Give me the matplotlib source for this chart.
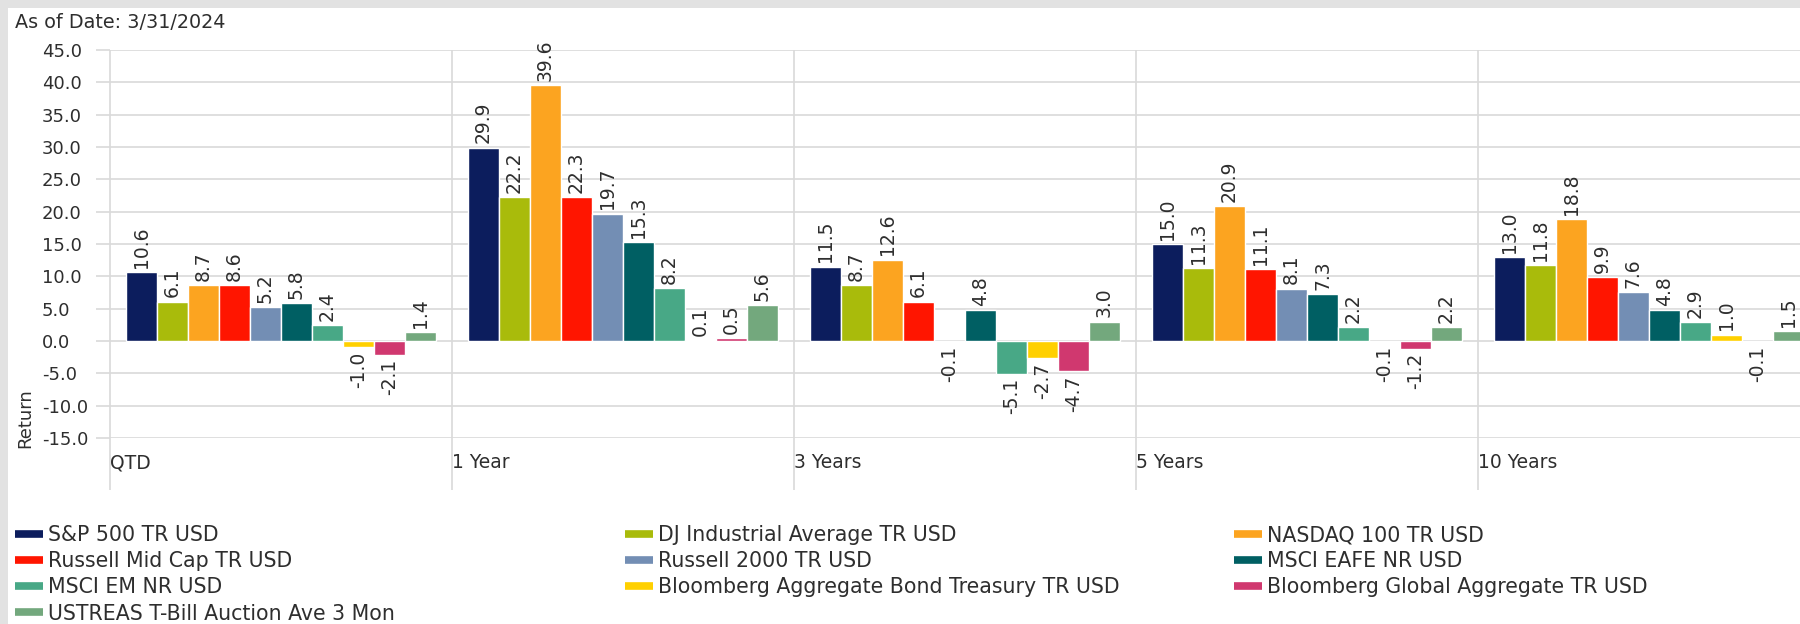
import numpy as np
import matplotlib.pyplot as plt
from matplotlib.lines import Line2D
from matplotlib.patches import Rectangle

# Trailing returns as of 3/31/2024
periods = ["QTD", "1 Year", "3 Years", "5 Years", "10 Years"]

series_names = [
    "S&P 500 TR USD",
    "DJ Industrial Average TR USD",
    "NASDAQ 100 TR USD",
    "Russell Mid Cap TR USD",
    "Russell 2000 TR USD",
    "MSCI EAFE NR USD",
    "MSCI EM NR USD",
    "Bloomberg Aggregate Bond Treasury TR USD",
    "Bloomberg Global Aggregate TR USD",
    "USTREAS T-Bill Auction Ave 3 Mon",
]
colors = ["#0c1d5d", "#a9bb0b", "#fca420", "#ff1500", "#738eb4",
          "#005f63", "#48a886", "#ffd000", "#d0386f", "#73a87d"]

sp500 = [10.6, 29.9, 11.5, 15.0, 13.0]
dj_industrial = [6.1, 22.2, 8.7, 11.3, 11.8]
nasdaq100 = [8.7, 39.6, 12.6, 20.9, 18.8]
russell_mid = [8.6, 22.3, 6.1, 11.1, 9.9]
russell_2000 = [5.2, 19.7, -0.1, 8.1, 7.6]
msci_eafe = [5.8, 15.3, 4.8, 7.3, 4.8]
msci_em = [2.4, 8.2, -5.1, 2.2, 2.9]
bbg_treasury = [-1.0, 0.1, -2.7, -0.1, 1.0]
bbg_global = [-2.1, 0.5, -4.7, -1.2, -0.1]
tbill_3m = [1.4, 5.6, 3.0, 2.2, 1.5]

series = [sp500, dj_industrial, nasdaq100, russell_mid, russell_2000,
          msci_eafe, msci_em, bbg_treasury, bbg_global, tbill_3m]

grid_c = "#d9d9d9"
text_c = "#2e2e2e"
plt.rcParams["font.family"] = "DejaVu Sans"

fig = plt.figure(figsize=(18, 6.24), dpi=100)
ax = fig.add_axes([110 / 1800, 1 - 438 / 624, 1 - 110 / 1800, 388 / 624])

# bar layout inside each period slot
margin = 16 / 342
pitch = 31 / 342
base = np.arange(len(periods))
for k, (vals, col) in enumerate(zip(series, colors)):
    xs = base + margin + (k + 0.5) * pitch
    bars = ax.bar(xs, vals, width=pitch, color=col, edgecolor="white",
                  linewidth=1.0, zorder=3)
    ax.bar_label(bars, fmt="%.1f", rotation=90, padding=3,
                 fontsize=13.5, color=text_c)

ax.set_ylim(-15, 45)
ax.set_xlim(0, (1800 - 110) / 342)
ax.set_yticks(np.arange(-15, 46, 5))
ax.set_yticklabels([f"{v:.1f}" for v in np.arange(-15, 46, 5)])
ax.tick_params(axis="y", length=10, width=1.2, color=grid_c, pad=39,
               labelsize=13, labelcolor=text_c)
for lab in ax.get_yticklabels():
    lab.set_horizontalalignment("left")
ax.grid(axis="y", color=grid_c, linewidth=1.2, zorder=0)

# period separators, running below the plot
ax.vlines(np.arange(len(periods) + 1), -0.135, 1, color=grid_c,
          linewidth=1.2, transform=ax.get_xaxis_transform(), clip_on=False,
          zorder=0)
ax.set_xticks(base)
ax.set_xticklabels(periods)
ax.tick_params(axis="x", length=0, pad=11, labelsize=13.5,
               labelcolor=text_c)
for lab in ax.get_xticklabels():
    lab.set_horizontalalignment("left")

for s in ax.spines.values():
    s.set_visible(False)

fig.text(25 / 1800, 1 - 418 / 624, "Return", rotation=90, ha="center",
         va="center", fontsize=13, color=text_c)
fig.text(15 / 1800, 1 - 22 / 624, "As of Date: 3/31/2024", ha="left",
         va="center", fontsize=13.8, color=text_c)

# legend, three columns filled row by row
col_x = [15, 625, 1234]
for c in range(3):
    idx = list(range(c, len(series_names), 3))
    handles = [Line2D([0], [0], color=colors[i], lw=5.5,
                      solid_capstyle="butt") for i in idx]
    leg = fig.legend(handles, [series_names[i] for i in idx],
                     loc="upper left",
                     bbox_to_anchor=(col_x[c] / 1800, 1 - 525 / 624),
                     frameon=False, fontsize=14.8, handlelength=1.36,
                     handletextpad=0.25, labelspacing=0.30,
                     borderpad=0, borderaxespad=0)
    for t in leg.get_texts():
        t.set_color(text_c)

# screenshot frame on top and left
fig.add_artist(Rectangle((0, 1 - 8 / 624), 1, 8 / 624,
                         transform=fig.transFigure, color="#e2e2e2", lw=0))
fig.add_artist(Rectangle((0, 0), 8 / 1800, 1,
                         transform=fig.transFigure, color="#e2e2e2", lw=0))

fig.savefig("out.png", dpi=100)
